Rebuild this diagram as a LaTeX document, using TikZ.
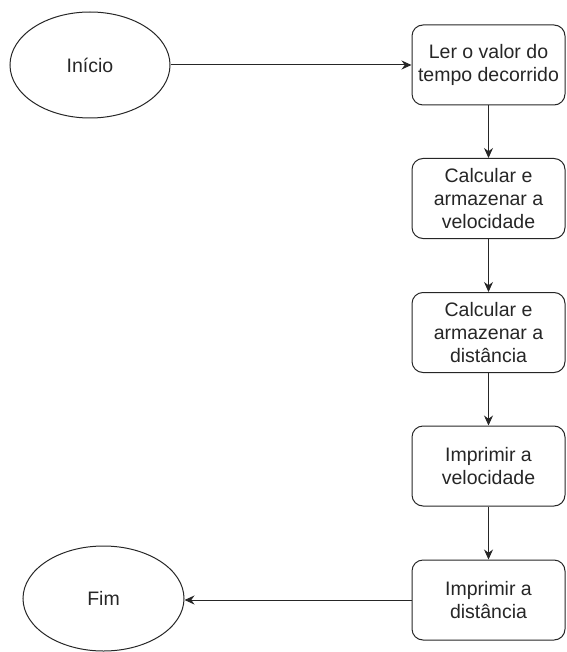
\documentclass[tikz,border=0pt]{standalone}
\usepackage{fontspec}
\setmainfont{Liberation Sans}
\usetikzlibrary{shapes.geometric,arrows.meta}
\begin{document}
\begin{tikzpicture}[x=1pt,y=1pt,
  every node/.style={font=\fontsize{19.5}{23}\selectfont, text=black!85},
  stepbox/.style={draw=black!85, line width=1pt, rounded corners=11pt, minimum width=153pt, minimum height=80pt, align=center, inner sep=0pt},
  term/.style={draw=black!85, line width=1pt, ellipse, inner sep=0pt},
  conn/.style={draw=black!85, line width=1pt, -{Stealth[length=10pt,width=9pt]}}
]
\useasboundingbox (0,0) rectangle (566,-652);
\node[term, minimum width=160pt, minimum height=106pt] (ini) at (90,-65) {Início};
\node[term, minimum width=161pt, minimum height=105pt] (fim) at (103.5,-598.5) {Fim};
\node[stepbox] (b1) at (488.5,-65) {Ler o valor do\\tempo decorrido};
\node[stepbox] (b2) at (488.5,-198.5) {Calcular e\\armazenar a\\velocidade};
\node[stepbox] (b3) at (488.5,-332.5) {Calcular e\\armazenar a\\distância};
\node[stepbox] (b4) at (488.5,-466) {Imprimir a\\velocidade};
\node[stepbox] (b5) at (488.5,-600) {Imprimir a\\distância};
\draw[conn] (ini) -- (b1);
\draw[conn] (b1) -- (b2);
\draw[conn] (b2) -- (b3);
\draw[conn] (b3) -- (b4);
\draw[conn] (b4) -- (b5);
\draw[conn] (b5.west) -- (fim.east |- b5.west);
\end{tikzpicture}
\end{document}
